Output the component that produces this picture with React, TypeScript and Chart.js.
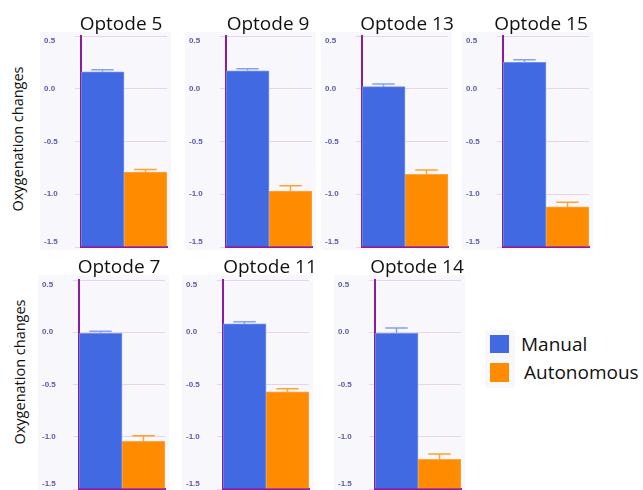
import React, { useEffect, useRef } from "react";
import { Chart, registerables } from "chart.js";

Chart.register(...registerables);

// ---------- data ----------
const optodes = ["Optode 5", "Optode 9", "Optode 13", "Optode 15", "Optode 7", "Optode 11", "Optode 14"];
const seriesNames = ["Manual", "Autonomous"];
const manual = [0.16, 0.17, 0.02, 0.25, -0.01, 0.08, -0.01];
const manualErr = [0.02, 0.02, 0.025, 0.025, 0.02, 0.02, 0.05];
const autonomous = [-0.79, -0.97, -0.81, -1.12, -1.045, -0.57, -1.215];
const autonomousErr = [0.025, 0.05, 0.04, 0.045, 0.055, 0.03, 0.05];
const yMin = -1.5;
const yMax = 0.5;
const yStep = 0.5;
const yAxisTitle = "Oxygenation changes";

// ---------- layout / style ----------
const panelAxisX = [81, 226, 362, 503, 79, 223, 375];
const panelTop = [32, 32, 32, 32, 275, 275, 275];
const titleCenterX = [121, 268, 407, 541, 119, 270, 417];
const titleTop = [14, 14, 14, 14, 257, 257, 257];
const PLOT_W = 86;
const AXIS_OFFSET = 41;
const CANVAS_H = 218;

const BLUE = "#4169e1";
const BLUE_EDGE = "#7290f0";
const BLUE_ERR = "#86a0f2";
const ORANGE = "#ff8c00";
const ORANGE_EDGE = "#ffa640";
const ORANGE_ERR = "#ffa230";
const PURPLE = "#8c1c9c";
const GRID = "#e8d3ea";
const PANEL_BG = "#f7f7fc";
const TICK_COLOR = "#5a5aac";
const FONT = "'Open Sans', 'Noto Sans', sans-serif";

const errorBarPlugin = {
  id: "errorBars",
  afterDatasetsDraw(chart: any) {
    const ctx = chart.ctx;
    const y = chart.scales.y;
    chart.data.datasets.forEach((ds: any, di: number) => {
      const meta = chart.getDatasetMeta(di);
      meta.data.forEach((bar: any, i: number) => {
        const v = ds.data[i];
        const e = ds.errors[i];
        const yBar = y.getPixelForValue(v);
        const yTop = y.getPixelForValue(v + e);
        const half = bar.width * 0.26;
        ctx.save();
        ctx.strokeStyle = ds.errorColor;
        ctx.lineWidth = 1.5;
        ctx.beginPath();
        ctx.moveTo(bar.x, yBar);
        ctx.lineTo(bar.x, yTop);
        ctx.moveTo(bar.x - half, yTop);
        ctx.lineTo(bar.x + half, yTop);
        ctx.stroke();
        ctx.restore();
      });
    });
  },
};

function Panel({ idx }: { idx: number }) {
  const ref = useRef<HTMLCanvasElement | null>(null);
  const width = AXIS_OFFSET + PLOT_W + 4;
  const isBottom = panelTop[idx] > 100;

  useEffect(() => {
    if (!ref.current) return;
    const chart = new Chart(ref.current, {
      type: "bar",
      data: {
        labels: [""],
        datasets: [
          {
            label: seriesNames[0],
            data: [manual[idx]],
            errors: [manualErr[idx]],
            errorColor: BLUE_ERR,
            backgroundColor: BLUE,
            borderColor: BLUE_EDGE,
            borderWidth: 1,
            base: yMin,
          } as any,
          {
            label: seriesNames[1],
            data: [autonomous[idx]],
            errors: [autonomousErr[idx]],
            errorColor: ORANGE_ERR,
            backgroundColor: ORANGE,
            borderColor: ORANGE_EDGE,
            borderWidth: 1,
            base: yMin,
          } as any,
        ],
      },
      options: {
        responsive: false,
        maintainAspectRatio: false,
        animation: false,
        layout: { padding: { left: 4, right: 4, top: isBottom ? 5 : 4, bottom: isBottom ? 4 : 3 } },
        datasets: { bar: { barPercentage: 1, categoryPercentage: 1 } },
        plugins: { legend: { display: false }, tooltip: { enabled: false }, title: { display: false } },
        scales: {
          x: {
            type: "category",
            ticks: { display: false },
            grid: { display: false, drawTicks: false, tickLength: 0 },
            border: { display: true, color: PURPLE, width: 2 },
          },
          y: {
            min: yMin,
            max: yMax,
            ticks: {
              stepSize: yStep,
              color: TICK_COLOR,
              font: { family: "'Liberation Sans', Arial, sans-serif", size: 8, weight: "bold" },
              crossAlign: "far",
              padding: 2,
              callback: (value: any) => {
                const v = Number(value);
                const s = v.toFixed(1);
                if (Math.abs(v - yMax) < 1e-9) return ["", s];
                if (Math.abs(v - yMin) < 1e-9) return [s, ""];
                return s;
              },
            },
            grid: { color: GRID, lineWidth: 1, tickLength: 6, drawTicks: true },
            border: { display: true, color: PURPLE, width: 2 },
            afterFit: (scale: any) => {
              scale.width = AXIS_OFFSET - 4;
              scale.paddingTop = 0;
              scale.paddingBottom = 0;
            },
          },
        },
      },
      plugins: [errorBarPlugin],
    } as any);
    return () => chart.destroy();
  }, [idx]);

  return (
    <>
      <canvas
        ref={ref}
        width={width}
        height={CANVAS_H}
        style={{
          position: "absolute",
          left: panelAxisX[idx] - AXIS_OFFSET,
          top: panelTop[idx],
          width,
          height: CANVAS_H,
          background: PANEL_BG,
        }}
      />
      <div
        style={{
          position: "absolute",
          left: titleCenterX[idx],
          top: titleTop[idx],
          transform: "translateX(-50%)",
          fontFamily: FONT,
          fontSize: 19,
          lineHeight: "19px",
          color: "#111",
          whiteSpace: "nowrap",
        }}
      >
        {optodes[idx]}
      </div>
    </>
  );
}

export default function App() {
  const yTitleStyle = (cx: number, cy: number): React.CSSProperties => ({
    position: "absolute",
    left: cx,
    top: cy,
    transform: "translate(-50%, -50%) rotate(-90deg)",
    fontFamily: FONT,
    fontSize: 14.5,
    lineHeight: "15px",
    color: "#111",
    whiteSpace: "nowrap",
  });
  const legendText = (left: number, cy: number): React.CSSProperties => ({
    position: "absolute",
    left,
    top: cy,
    transform: "translateY(-50%)",
    fontFamily: FONT,
    fontSize: 19,
    lineHeight: "19px",
    color: "#111",
    whiteSpace: "nowrap",
  });
  return (
    <div
      style={{
        position: "absolute",
        left: 0,
        top: 0,
        width: 643,
        height: 490,
        overflow: "hidden",
        background: "#fff",
      }}
    >
      {optodes.map((_, i) => (
        <Panel key={i} idx={i} />
      ))}
      <div style={yTitleStyle(17, 139)}>{yAxisTitle}</div>
      <div style={yTitleStyle(19, 372)}>{yAxisTitle}</div>
      <div style={{ position: "absolute", left: 485, top: 330, width: 30, height: 58, background: PANEL_BG }} />
      <div style={{ position: "absolute", left: 490, top: 335, width: 19, height: 18, background: BLUE }} />
      <div style={{ position: "absolute", left: 490, top: 363, width: 19, height: 19, background: ORANGE }} />
      <div style={legendText(521, 344)}>{seriesNames[0]}</div>
      <div style={legendText(524, 372)}>{seriesNames[1]}</div>
    </div>
  );
}
